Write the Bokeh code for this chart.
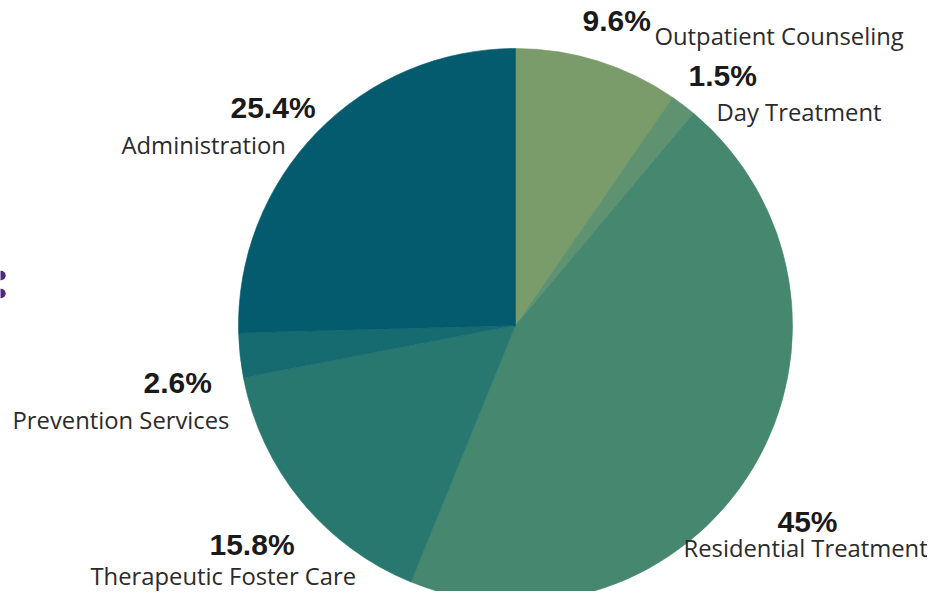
import math
from bokeh.plotting import figure
from bokeh.models import Range1d, ColumnDataSource
from bokeh.core.properties import value
from bokeh.embed import file_html
from bokeh.resources import INLINE

# ---- data ----
categories = ["Outpatient Counseling", "Day Treatment", "Residential Treatment",
              "Therapeutic Foster Care", "Prevention Services", "Administration"]
shares = [9.6, 1.5, 45.0, 15.8, 2.6, 25.4]
pct_labels = ["9.6%", "1.5%", "45%", "15.8%", "2.6%", "25.4%"]
colors = ["#7a9b6a", "#5f9270", "#45876f", "#287870", "#156b6f", "#035b6d"]

# ---- layout (picture pixel coordinates, y downward) ----
W, H = 927, 591
BASE_SHIFT = 11  # renderer places alphabetic baseline slightly lower
def px(x):
    return x
def py(y):
    return H - y

cx, cy, R = 515, 325, 277

# label positions: (pct_left, pct_baseline, name_left, name_baseline)
label_pos = [
    (582, 31, 654, 45),
    (688, 86, 716, 121),
    (777, 532, 683, 557),
    (209, 555, 90, 585),
    (143, 393, 12, 429),
    (230, 118, 121, 154),
]

p = figure(width=W, height=H, output_backend="svg", toolbar_location=None,
           x_range=Range1d(0, W), y_range=Range1d(0, H), min_border=0)
p.axis.visible = False
p.grid.visible = False
p.outline_line_color = None
p.background_fill_color = "white"
p.border_fill_color = "white"

total = sum(shares)
starts, ends = [], []
cum = 0.0
for s in shares:
    a0 = math.pi / 2 - 2 * math.pi * cum / total
    cum += s
    a1 = math.pi / 2 - 2 * math.pi * cum / total
    starts.append(a0)
    ends.append(a1)

src = ColumnDataSource(dict(x=[px(cx)] * len(shares), y=[py(cy)] * len(shares),
                            start=starts, end=ends, color=colors, cat=categories))
p.wedge(x="x", y="y", radius=R, start_angle="start", end_angle="end",
        direction="clock", fill_color="color", line_color="color", line_width=0.6,
        source=src)

pct_src = ColumnDataSource(dict(x=[px(l[0]) for l in label_pos],
                                y=[py(l[1] - BASE_SHIFT) for l in label_pos], t=pct_labels))
p.text(x="x", y="y", text="t", source=pct_src, text_font=value("Liberation Sans"),
       text_font_style="bold", text_font_size="30px", text_color="#1a1a1a",
       text_align="left", text_baseline="alphabetic")

name_src = ColumnDataSource(dict(x=[px(l[2]) for l in label_pos],
                                 y=[py(l[3] - BASE_SHIFT + 1) for l in label_pos], t=categories))
p.text(x="x", y="y", text="t", source=name_src, text_font=value("Open Sans"),
       text_font_size="23.8px", text_color="#2b2b2b",
       text_align="left", text_baseline="alphabetic")

# clipped purple colon fragment at the left edge
p.scatter(x=[0.5, 0.5], y=[py(275), py(293)], size=9.5, marker="circle",
          fill_color="#4b2a80", line_color=None)

open("out.html", "w").write(file_html(p, INLINE))
